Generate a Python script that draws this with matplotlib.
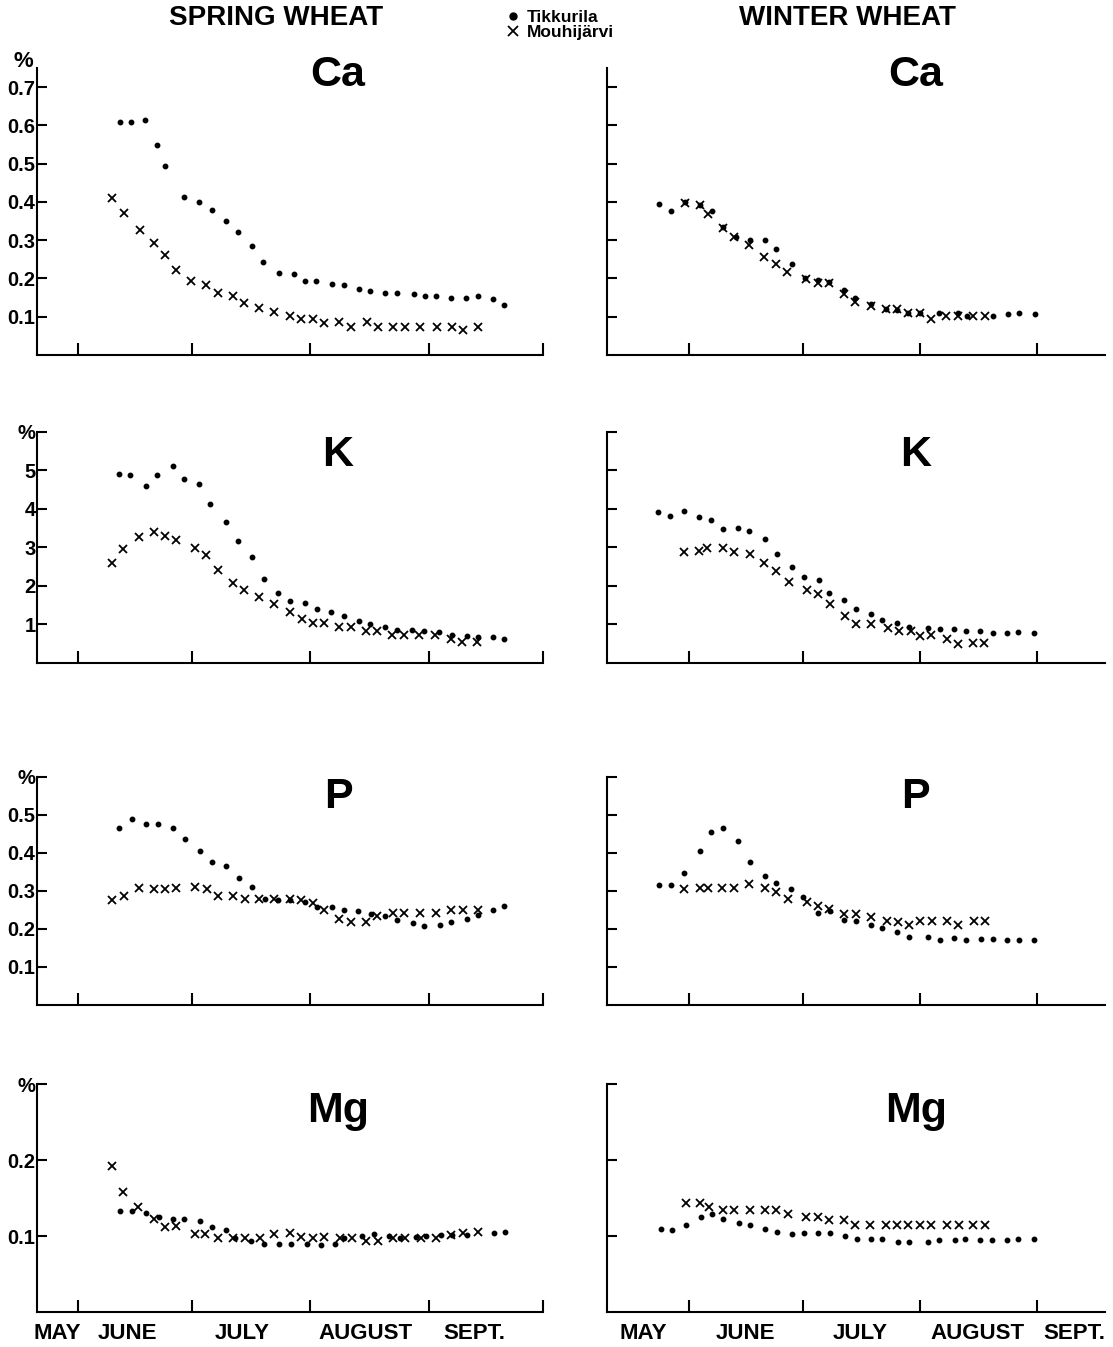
import numpy as np
import matplotlib
matplotlib.use("Agg")
import matplotlib.pyplot as plt
from matplotlib.lines import Line2D

plt.rcParams["font.family"] = ["Liberation Sans", "DejaVu Sans"]
plt.rcParams["font.weight"] = "bold"

# days counted from 1 June
month_ticks = [0, 30, 61, 92, 122]
month_names = ["MAY", "JUNE", "JULY", "AUGUST", "SEPT."]
spring_label_pos = [-5.3, 13, 43, 75.5, 104]
winter_label_pos = [-12, 14.8, 45.2, 76.2, 102]

# ---- Ca ----
ca_spring_tik_day = [11, 14, 17.6, 20.8, 23, 27.9, 31.8, 35.2, 38.9, 42, 45.8, 48.6, 52.8, 56.7, 59.6,
                     62.6, 66.8, 69.7, 73.8, 76.7, 80.7, 83.7, 88.2, 91, 93.9, 97.9, 101.9, 104.9, 108.9, 111.7]
ca_spring_tik_val = [0.608, 0.609, 0.614, 0.549, 0.493, 0.413, 0.40, 0.379, 0.349, 0.320, 0.285, 0.242, 0.215,
                     0.212, 0.194, 0.192, 0.185, 0.183, 0.173, 0.168, 0.162, 0.161, 0.158, 0.154, 0.155, 0.148,
                     0.148, 0.155, 0.145, 0.131]
ca_spring_mou_day = [8.9, 12, 16.3, 20, 22.8, 25.7, 29.8, 33.7, 36.9, 40.7, 43.7, 47.5, 51.6, 55.6, 58.6, 61.7,
                     64.7, 68.6, 71.6, 75.8, 78.8, 82.7, 85.7, 89.7, 94.1, 98.1, 101, 104.9]
ca_spring_mou_val = [0.411, 0.370, 0.326, 0.292, 0.262, 0.221, 0.194, 0.182, 0.161, 0.154, 0.135, 0.122, 0.111,
                     0.102, 0.093, 0.093, 0.084, 0.085, 0.074, 0.085, 0.074, 0.074, 0.074, 0.074, 0.074, 0.074,
                     0.064, 0.074]
ca_winter_tik_day = [-7.9, -4.7, -1.2, 3, 6.1, 9, 12.5, 16.2, 20, 23.1, 27.1, 30.6, 34, 37, 41, 44, 48, 52, 55,
                     58, 61, 66, 71, 73.6, 80.4, 84.3, 87.3, 91.4]
ca_winter_tik_val = [0.395, 0.375, 0.40, 0.393, 0.376, 0.333, 0.308, 0.30, 0.30, 0.276, 0.237, 0.202, 0.195,
                     0.19, 0.169, 0.149, 0.132, 0.12, 0.118, 0.11, 0.11, 0.11, 0.109, 0.103, 0.102, 0.106,
                     0.11, 0.106]
ca_winter_mou_day = [-1.2, 3, 4.9, 9, 11.9, 15.9, 19.9, 22.9, 25.9, 30.8, 34, 37, 41, 44, 48, 52, 55, 58, 61,
                     64, 68, 71.1, 75, 78.2]
ca_winter_mou_val = [0.396, 0.392, 0.367, 0.331, 0.308, 0.287, 0.257, 0.237, 0.217, 0.199, 0.188, 0.188, 0.160,
                     0.138, 0.129, 0.119, 0.119, 0.109, 0.109, 0.093, 0.102, 0.102, 0.102, 0.102]

# ---- K ----
k_spring_tik_day = [10.9, 13.8, 17.8, 20.8, 24.9, 27.9, 31.7, 34.8, 38.9, 42.1, 45.8, 48.8, 52.5, 55.6, 59.7,
                    62.8, 66.5, 69.7, 73.8, 76.7, 80.7, 83.8, 87.7, 90.8, 94.8, 98.1, 102.1, 105, 109, 111.7]
k_spring_tik_val = [4.92, 4.87, 4.60, 4.88, 5.12, 4.79, 4.66, 4.13, 3.65, 3.16, 2.76, 2.19, 1.82, 1.61, 1.55,
                    1.41, 1.32, 1.23, 1.09, 1.01, 0.93, 0.85, 0.85, 0.83, 0.81, 0.74, 0.69, 0.67, 0.67, 0.62]
k_spring_mou_day = [8.9, 11.9, 16, 19.9, 22.8, 25.7, 30.8, 33.7, 36.7, 40.8, 43.7, 47.6, 51.6, 55.6, 58.7, 61.6,
                    64.6, 68.5, 71.6, 75.5, 78.6, 82.5, 85.5, 89.5, 93.8, 97.8, 100.8, 104.7]
k_spring_mou_val = [2.60, 2.97, 3.27, 3.39, 3.29, 3.19, 2.98, 2.81, 2.41, 2.09, 1.90, 1.71, 1.53, 1.32, 1.13,
                    1.03, 1.03, 0.93, 0.93, 0.84, 0.82, 0.74, 0.74, 0.72, 0.74, 0.63, 0.55, 0.55]
k_winter_tik_day = [-8.2, -5.1, -1.3, 2.7, 5.8, 8.9, 12.9, 15.9, 20, 23.3, 27.2, 30.3, 34.3, 37.1, 41.1, 44.2,
                    48.2, 51, 55.1, 58.1, 63.1, 66.3, 70.1, 73.3, 77, 80.3, 84.1, 87, 91.2]
k_winter_tik_val = [3.91, 3.83, 3.94, 3.79, 3.72, 3.49, 3.50, 3.43, 3.21, 2.84, 2.50, 2.23, 2.15, 1.83, 1.63,
                    1.41, 1.28, 1.12, 1.04, 0.93, 0.90, 0.87, 0.87, 0.83, 0.82, 0.77, 0.78, 0.81, 0.77]
k_winter_mou_day = [-1.3, 2.7, 4.8, 8.9, 11.9, 16, 19.9, 23.1, 26.3, 31.2, 34.2, 37.3, 41.2, 44.2, 48.2, 52.5,
                    55.4, 58.6, 61.2, 64.1, 68.2, 71.1, 75, 78.1]
k_winter_mou_val = [2.89, 2.91, 2.99, 2.99, 2.89, 2.82, 2.61, 2.39, 2.10, 1.90, 1.80, 1.52, 1.22, 1.02, 1.02,
                    0.90, 0.82, 0.82, 0.70, 0.73, 0.62, 0.50, 0.53, 0.51]

# ---- P ----
p_spring_tik_day = [10.9, 14.2, 17.9, 21, 25.1, 28, 32.1, 35.1, 39, 42.2, 45.8, 49.1, 52.4, 55.6, 59.6, 62.8,
                    66.8, 69.8, 73.6, 76.9, 80.6, 83.8, 87.9, 90.8, 95, 98, 102, 105, 108.9, 111.9]
p_spring_tik_val = [0.466, 0.489, 0.477, 0.476, 0.467, 0.437, 0.404, 0.376, 0.365, 0.334, 0.310, 0.278, 0.275,
                    0.275, 0.270, 0.257, 0.257, 0.250, 0.248, 0.239, 0.233, 0.224, 0.217, 0.208, 0.211, 0.219,
                    0.227, 0.236, 0.250, 0.261]
p_spring_mou_day = [9.1, 12.2, 16.1, 20.1, 22.8, 25.7, 30.8, 33.9, 36.9, 40.8, 43.8, 47.6, 51.6, 55.6, 58.6,
                    61.7, 64.6, 68.6, 71.7, 75.6, 78.6, 82.7, 85.6, 89.7, 94, 98, 101, 105]
p_spring_mou_val = [0.276, 0.287, 0.309, 0.306, 0.306, 0.309, 0.31, 0.306, 0.286, 0.286, 0.278, 0.278, 0.278,
                    0.278, 0.276, 0.269, 0.249, 0.227, 0.219, 0.219, 0.233, 0.241, 0.241, 0.241, 0.241, 0.250,
                    0.250, 0.250]
p_winter_tik_day = [-7.9, -4.8, -1.3, 2.8, 5.9, 9, 13, 16, 20, 23, 27, 30.1, 34.2, 37.2, 41, 44.1, 48.1, 51, 55,
                    58.2, 63.2, 66.3, 70.1, 73.2, 77.2, 80.3, 84.2, 87.2, 91.3]
p_winter_tik_val = [0.315, 0.315, 0.346, 0.406, 0.455, 0.465, 0.431, 0.377, 0.339, 0.321, 0.305, 0.285, 0.243,
                    0.246, 0.223, 0.221, 0.210, 0.203, 0.192, 0.180, 0.180, 0.170, 0.175, 0.172, 0.174, 0.173,
                    0.172, 0.172, 0.170]
p_winter_mou_day = [-1.3, 2.8, 4.9, 8.8, 11.9, 15.9, 20, 23.1, 26.2, 31.2, 34.1, 37.1, 41.1, 44.2, 48.2, 52.3,
                    55.3, 58.2, 61.1, 64.2, 68.2, 71.1, 75.3, 78.3]
p_winter_mou_val = [0.305, 0.307, 0.307, 0.307, 0.307, 0.318, 0.307, 0.297, 0.278, 0.271, 0.260, 0.252, 0.240,
                    0.240, 0.232, 0.222, 0.219, 0.211, 0.221, 0.221, 0.221, 0.211, 0.222, 0.222]

# ---- Mg ----
mg_spring_tik_day = [11.1, 14.1, 18, 21.2, 25.1, 27.9, 32, 35.2, 39, 41.2, 45.4, 48.8, 52.9, 55.9, 60.1, 63.7,
                     67.4, 69.9, 74.5, 77.6, 81.6, 84.4, 88.6, 91.4, 95.4, 98.2, 102.2, 109.3, 112]
mg_spring_tik_val = [0.133, 0.133, 0.131, 0.125, 0.123, 0.123, 0.120, 0.112, 0.108, 0.098, 0.094, 0.090, 0.089,
                     0.089, 0.089, 0.088, 0.089, 0.098, 0.10, 0.103, 0.100, 0.098, 0.099, 0.100, 0.101, 0.102,
                     0.102, 0.104, 0.106]
mg_spring_mou_day = [8.9, 11.9, 15.9, 20, 22.8, 25.7, 30.7, 33.4, 36.7, 40.8, 43.8, 47.7, 51.6, 55.6, 58.6, 61.7,
                     64.7, 68.7, 71.8, 75.7, 78.7, 82.7, 85.8, 90, 94, 97.9, 101, 104.9]
mg_spring_mou_val = [0.192, 0.158, 0.138, 0.122, 0.112, 0.113, 0.103, 0.103, 0.098, 0.098, 0.098, 0.098, 0.103,
                     0.104, 0.099, 0.098, 0.099, 0.098, 0.098, 0.094, 0.094, 0.098, 0.098, 0.098, 0.098, 0.102,
                     0.104, 0.105]
mg_winter_tik_day = [-7.4, -4.5, -0.9, 3.1, 6.1, 9.1, 13.1, 16.1, 20.1, 23.2, 27.1, 30.3, 34.2, 37.2, 41.2, 44.3,
                     48.1, 51.1, 55.2, 58.1, 63.2, 66.2, 70.2, 73.1, 77, 80, 84, 87, 91.2]
mg_winter_tik_val = [0.109, 0.108, 0.115, 0.125, 0.129, 0.123, 0.117, 0.114, 0.110, 0.106, 0.103, 0.104, 0.104,
                     0.104, 0.100, 0.096, 0.096, 0.096, 0.092, 0.092, 0.092, 0.095, 0.095, 0.096, 0.095, 0.095,
                     0.095, 0.096, 0.096]
mg_winter_mou_day = [-0.9, 3, 5.2, 9, 12, 16.2, 20.2, 23.1, 26.1, 31, 34, 37, 40.9, 44, 47.8, 52.1, 54.9, 57.9,
                     61.2, 64.1, 68.2, 71.3, 75.1, 78.2]
mg_winter_mou_val = [0.144, 0.144, 0.139, 0.134, 0.134, 0.134, 0.134, 0.134, 0.129, 0.125, 0.125, 0.121, 0.121,
                     0.114, 0.114, 0.114, 0.114, 0.114, 0.114, 0.114, 0.114, 0.114, 0.114, 0.114]

rows = [
    ("Ca", 0.7365, 0.2131, 0.75, [0.1, 0.2, 0.3, 0.4, 0.5, 0.6, 0.7],
     ["0.1", "0.2", "0.3", "0.4", "0.5", "0.6", "0.7"], 0.975,
     (ca_spring_tik_day, ca_spring_tik_val, ca_spring_mou_day, ca_spring_mou_val),
     (ca_winter_tik_day, ca_winter_tik_val, ca_winter_mou_day, ca_winter_mou_val)),
    ("K", 0.5078, 0.1715, 6, [1, 2, 3, 4, 5, 6], ["1", "2", "3", "4", "5", "%"], 0.90,
     (k_spring_tik_day, k_spring_tik_val, k_spring_mou_day, k_spring_mou_val),
     (k_winter_tik_day, k_winter_tik_val, k_winter_mou_day, k_winter_mou_val)),
    ("P", 0.2539, 0.1693, 0.6, [0.1, 0.2, 0.3, 0.4, 0.5, 0.6], ["0.1", "0.2", "0.3", "0.4", "0.5", "%"], 0.91,
     (p_spring_tik_day, p_spring_tik_val, p_spring_mou_day, p_spring_mou_val),
     (p_winter_tik_day, p_winter_tik_val, p_winter_mou_day, p_winter_mou_val)),
    ("Mg", 0.026, 0.169, 0.3, [0.1, 0.2, 0.3], ["0.1", "0.2", "%"], 0.885,
     (mg_spring_tik_day, mg_spring_tik_val, mg_spring_mou_day, mg_spring_mou_val),
     (mg_winter_tik_day, mg_winter_tik_val, mg_winter_mou_day, mg_winter_mou_val)),
]

fig = plt.figure(figsize=(11.13, 13.47), dpi=100)


def style(ax, ymax, yticks):
    for s in ["top", "right"]:
        ax.spines[s].set_visible(False)
    for s in ["left", "bottom"]:
        ax.spines[s].set_linewidth(1.5)
    ax.set_ylim(0, ymax)
    ax.set_yticks(yticks)
    ax.tick_params(axis="x", which="major", direction="in", length=9, width=1.5, labelbottom=False)
    ax.tick_params(axis="y", direction="in", length=7, width=1.5, labelsize=14.5, pad=1)


for i, (el, b, h, ymax, yticks, ylabels, lab_y, spring, winter) in enumerate(rows):
    last = i == len(rows) - 1

    ax = fig.add_axes([0.0332, b, 0.4546, h])
    style(ax, ymax, yticks)
    ax.set_xlim(-10.7, 122)
    ax.set_xticks(month_ticks)
    ax.set_yticklabels(ylabels)
    ax.plot(spring[0], spring[1], "o", ms=3.2, color="black")
    ax.plot(spring[2], spring[3], "x", ms=6, mew=1.3, color="black")
    ax.text(0.595, lab_y, el, transform=ax.transAxes, ha="center", va="center", fontsize=31)
    if el == "Ca":
        ax.text(-0.008, 0.985, "%", transform=ax.transAxes, ha="right", va="bottom", fontsize=16)
    if last:
        ax.set_xticks(spring_label_pos, month_names, minor=True)
        ax.tick_params(axis="x", which="minor", length=0, labelsize=16, pad=8)

    ax2 = fig.add_axes([0.5454, b, 0.4474, h])
    style(ax2, ymax, yticks)
    ax2.set_xlim(-21.7, 110)
    ax2.set_xticks(month_ticks[:4])
    ax2.set_yticklabels([])
    ax2.plot(winter[0], winter[1], "o", ms=3.2, color="black")
    ax2.plot(winter[2], winter[3], "x", ms=6, mew=1.3, color="black")
    ax2.text(0.62, lab_y, el, transform=ax2.transAxes, ha="center", va="center", fontsize=31)
    if last:
        ax2.set_xticks(winter_label_pos, month_names, minor=True)
        ax2.tick_params(axis="x", which="minor", length=0, labelsize=16, pad=8)

fig.text(276 / 1113, 1 - 18 / 1347, "SPRING WHEAT", ha="center", va="center", fontsize=20)
fig.text(847 / 1113, 1 - 18 / 1347, "WINTER WHEAT", ha="center", va="center", fontsize=20)

handles = [Line2D([], [], marker="o", ms=5, ls="none", color="black"),
           Line2D([], [], marker="x", ms=7, mew=1.3, ls="none", color="black")]
fig.legend(handles, ["Tikkurila", "Mouhijärvi"], loc="upper left", bbox_to_anchor=(0.445, 0.999),
           frameon=False, fontsize=12.5, handletextpad=0.3, labelspacing=0, borderpad=0,
           handlelength=1)

fig.savefig("out.png", dpi=100)
